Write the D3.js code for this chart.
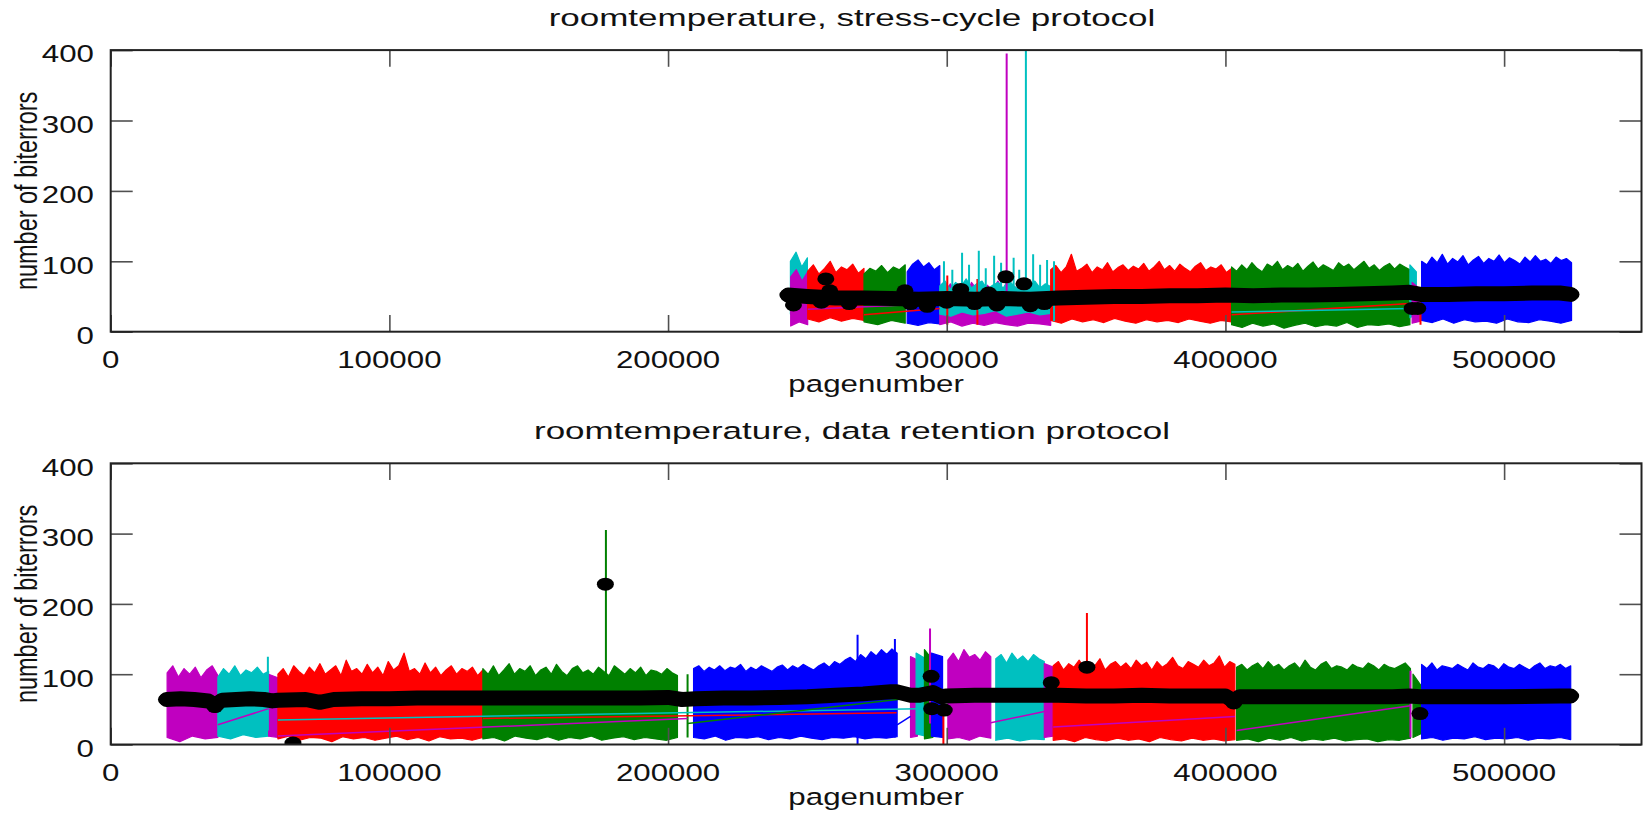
<!DOCTYPE html>
<meta charset="utf-8">
<style>
    body { margin: 0; background: #fff; }
    text { font-family: "Liberation Sans", Arial, sans-serif; fill: #111; }
    .tick line { stroke: #505050; stroke-width: 1.6px; }
    .domain { display: none; }
</style>
<title>roomtemperature biterrors</title>
<script src="https://d3js.org/d3.v7.min.js"></script>
<body>
<div id="chart"></div>
<script>
    // ---- data ----
    var xTicks = [0, 100000, 200000, 300000, 400000, 500000];
    var yTicks = [0, 100, 200, 300, 400];
    var titles = ["roomtemperature, stress-cycle protocol", "roomtemperature, data retention protocol"];
    var palette = {m: "#c000c0", c: "#00c0c0", r: "#ff0000", g: "#008000", b: "#0000ff"};

    // blocks: colour, first page, last page, upper envelope, lower envelope (evenly spaced along the block)
    var stressBlocks = [
        ["c", 243900, 250000, [100, 113, 92, 105], [25, 20, 28, 22]],
        ["m", 244000, 250100, [78, 88, 72, 85], [8, 14, 10]],
        ["r", 250100, 270300, [86, 95, 82, 90, 100, 84, 92, 88, 96, 83, 90], [18, 14, 20, 15, 19, 16]],
        ["g", 270300, 285100, [82, 90, 86, 94, 84, 92, 88, 95], [14, 10, 16, 12]],
        ["b", 285800, 297500, [85, 96, 102, 92, 98, 88, 94], [12, 9, 13, 11]],
        ["m", 297500, 337300, [62, 55, 68, 58, 64, 52, 70, 60, 56, 66, 58, 72, 60, 54, 65, 58, 62, 68, 56, 64, 60, 58], [10, 14, 8, 12, 9, 13, 10, 8, 12, 11, 9]],
        ["c", 297500, 337300, [65, 72, 60, 70, 64, 75, 62, 68, 72, 60, 66, 70, 62, 74, 65, 60, 70, 66, 72, 62, 68, 64], [25, 22, 28, 24, 26, 30, 22, 25, 28, 24, 26]],
        ["r", 337300, 402200, [88, 94, 84, 92, 110, 86, 90, 96, 84, 92, 88, 98, 85, 91, 95, 87, 93, 89, 97, 86, 92, 100, 88, 94, 86, 96, 90, 85, 93, 98, 87, 92, 89, 95, 84, 90], [16, 12, 18, 14, 17, 13, 19, 15, 12, 17, 14, 16, 13, 18, 15, 12, 16, 14]],
        ["g", 402200, 466200, [92, 86, 95, 88, 98, 90, 85, 96, 92, 100, 88, 94, 90, 97, 86, 93, 99, 89, 95, 91, 87, 98, 92, 96, 88, 94, 100, 90, 95, 87, 93, 97, 89, 96, 92, 88], [10, 6, 12, 8, 11, 5, 9, 12, 7, 10, 8, 13, 6, 10, 9, 11, 7, 10]],
        ["c", 466200, 468500, [95, 85], [20, 25]],
        ["m", 467000, 470000, [70, 60], [12, 15]],
        ["b", 470400, 524200, [100, 95, 106, 98, 110, 96, 104, 99, 108, 95, 102, 107, 97, 104, 100, 109, 98, 105, 101, 96, 106, 99, 108, 100, 103, 97, 106, 101, 104, 98], [16, 13, 18, 12, 17, 14, 15, 12, 18, 14, 13, 17, 15, 12, 16]]
    ];
    var retentionBlocks = [
        ["m", 20240, 38460, [102, 112, 96, 108, 100, 110, 95, 106, 112, 98], [10, 4, 12, 8, 10]],
        ["c", 38460, 56650, [96, 108, 100, 112, 98, 106, 102, 110, 100, 104], [12, 8, 14, 10, 12]],
        ["m", 56650, 60000, [100, 95], [12, 10]],
        ["r", 60000, 133550, [100, 108, 96, 112, 104, 98, 110, 102, 115, 100, 106, 112, 98, 120, 104, 108, 100, 114, 102, 110, 98, 118, 106, 112, 130, 104, 108, 100, 116, 102, 110, 98, 106, 112, 100, 108, 104, 110, 98, 106], [8, 12, 6, 10, 9, 4, 11, 8, 10, 6, 9, 12, 7, 10, 5, 11, 8, 9, 6, 10]],
        ["g", 133550, 203370, [108, 100, 112, 98, 106, 115, 100, 108, 104, 112, 98, 106, 110, 100, 114, 104, 98, 108, 112, 102, 106, 100, 110, 104, 98, 112, 106, 100, 108, 102, 110, 98, 106, 104, 100, 108, 102, 98], [8, 10, 5, 12, 9, 7, 11, 6, 10, 8, 12, 6, 9, 11, 7, 10, 8, 6, 10]],
        ["b", 209150, 282200, [108, 112, 104, 110, 106, 112, 105, 110, 108, 114, 104, 110, 106, 112, 108, 104, 110, 113, 106, 112, 108, 114, 110, 106, 112, 116, 110, 118, 114, 120, 124, 118, 128, 122, 132, 126, 135, 128, 136, 130], [10, 8, 12, 6, 10, 9, 11, 7, 10, 8, 12, 9, 7, 10, 9, 11, 8, 10, 9, 11]],
        ["m", 287000, 289500, [125, 120], [10, 12]],
        ["c", 289000, 292500, [130, 122], [15, 12]],
        ["g", 292000, 295000, [135, 120], [8, 10]],
        ["b", 294500, 298500, [130, 125], [12, 10]],
        ["m", 300400, 315800, [120, 130, 118, 135, 124, 128, 120, 132, 125], [8, 10, 6, 12, 9]],
        ["c", 317600, 335000, [122, 128, 116, 130, 120, 126, 118, 128, 122, 118], [6, 9, 5, 8, 7]],
        ["m", 335000, 338200, [115, 110], [10, 12]],
        ["r", 338200, 403400, [112, 118, 106, 115, 110, 120, 108, 116, 112, 122, 106, 114, 118, 110, 116, 108, 120, 112, 117, 106, 118, 110, 115, 124, 112, 108, 118, 114, 110, 120, 112, 116, 126, 110, 118, 114], [6, 8, 4, 10, 7, 5, 9, 6, 8, 4, 10, 7, 5, 9, 6, 8, 5, 7]],
        ["g", 404000, 466400, [110, 114, 106, 112, 116, 108, 118, 110, 114, 106, 112, 116, 108, 120, 110, 106, 114, 118, 108, 112, 110, 106, 114, 110, 108, 116, 112, 106, 114, 110, 108, 112, 116, 108], [6, 8, 4, 9, 6, 10, 5, 8, 6, 9, 5, 7, 8, 4, 7, 6, 9]],
        ["g", 467300, 470000, [100, 85], [10, 15]],
        ["b", 470400, 523900, [114, 108, 116, 106, 112, 110, 108, 114, 110, 106, 116, 110, 108, 114, 112, 106, 115, 110, 108, 114, 110, 106, 112, 116, 108, 112, 110, 114, 108, 112], [8, 10, 6, 9, 8, 11, 7, 9, 8, 10, 6, 9, 8, 10, 7]]
    ];

    // single tall spikes: colour, page, low, high
    var stressSpikes = [["m", 321500, 40, 395], ["c", 328400, 40, 410], ["r", 300200, 10, 80], ["r", 311000, 10, 75],
        ["c", 299000, 30, 100], ["c", 302000, 30, 88], ["c", 305500, 30, 112], ["c", 308000, 30, 95], ["c", 311500, 30, 115],
        ["c", 314000, 30, 90], ["c", 317000, 30, 108], ["c", 319500, 30, 98], ["c", 324000, 30, 105], ["c", 326000, 30, 88],
        ["c", 331000, 30, 110], ["c", 333500, 30, 95], ["c", 336000, 30, 102], ["c", 338500, 15, 100], ["r", 470000, 10, 40]];
    var retentionSpikes = [["c", 56400, 20, 125], ["g", 177700, 60, 305], ["g", 207000, 10, 100], ["b", 268000, 0, 156],
        ["b", 281400, 10, 150], ["m", 294000, 30, 165], ["r", 298800, 0, 75], ["r", 350300, 60, 187], ["m", 466400, 10, 105]];

    // thin connecting lines: colour, page1, value1, page2, value2
    var stressLinks = [["m", 250100, 32, 297500, 40], ["r", 270300, 24, 297500, 33], ["r", 402200, 24, 466200, 40], ["c", 402200, 28, 466200, 33]];
    var retentionLinks = [["m", 38460, 28, 56650, 51], ["m", 60000, 12, 207000, 37], ["c", 60000, 35, 290000, 51], ["r", 133550, 37, 282000, 45],
        ["g", 207000, 30, 287000, 66], ["b", 282200, 28, 287000, 40], ["m", 315800, 31, 335000, 47], ["m", 338200, 25, 403400, 40], ["m", 404000, 20, 466400, 55]];

    // black mean points
    var stressMeans = [[243000, 52], [250000, 50], [260000, 48], [270000, 48], [280000, 47], [290000, 46], [300000, 47], [310000, 46], [320000, 47], [330000, 46], [340000, 48], [350000, 49], [360000, 50], [370000, 50], [380000, 51], [390000, 51], [400000, 52], [410000, 51], [420000, 52], [430000, 52], [440000, 53], [450000, 54], [460000, 55], [466000, 56], [470000, 53], [480000, 53], [490000, 54], [500000, 54], [510000, 55], [520000, 55], [524000, 53]];
    var stressScatter = [[245000, 38], [255000, 42], [265000, 40], [287000, 40], [293000, 36], [300000, 42], [310000, 40], [318000, 38], [330000, 37], [335000, 40], [467000, 33], [469000, 33], [258000, 58], [285000, 58], [305000, 60], [315000, 55], [256600, 75], [321200, 78], [327700, 68]];
    var retentionMeans = [[20000, 64], [25000, 65], [30000, 64], [35000, 62], [37500, 56], [40000, 63], [45000, 64], [50000, 65], [55000, 64], [58000, 62], [60000, 63], [70000, 64], [75000, 60], [80000, 64], [90000, 65], [100000, 65], [110000, 66], [120000, 66], [130000, 66], [140000, 66], [150000, 66], [160000, 66], [170000, 66], [180000, 66], [190000, 66], [200000, 67], [205000, 64], [210000, 65], [220000, 66], [230000, 66], [240000, 67], [250000, 68], [260000, 70], [270000, 72], [280000, 75], [282000, 75], [287000, 70], [290000, 70], [295000, 74], [298000, 68], [300000, 69], [310000, 70], [320000, 70], [330000, 70], [340000, 70], [350000, 69], [360000, 69], [370000, 70], [380000, 69], [390000, 69], [400000, 69], [403000, 62], [405000, 68], [420000, 68], [440000, 68], [460000, 68], [466000, 69], [470000, 68], [480000, 68], [500000, 68], [520000, 69], [523900, 69]];
    var retentionScatter = [[65400, 2], [177500, 228], [294400, 97], [294600, 51], [299100, 49], [337500, 88], [350300, 110], [403000, 59], [469800, 44], [37400, 54]];

    // ---- drawing ----
    var sx = 1.33;      // the picture is stretched sideways
    var sxTitle = 1.49;
    var width = 1643, height = 815;
    var svg = d3.select("#chart").append("svg").attr("width", width).attr("height", height);

    var x = d3.scaleLinear().domain([0, 549300]).range([110.7, 1641.5]);

    var panels = [
        {title: titles[0], top: 50.1, bottom: 331.7, blocks: stressBlocks, spikes: stressSpikes, links: stressLinks, means: stressMeans, scatter: stressScatter},
        {title: titles[1], top: 463.3, bottom: 744.5, blocks: retentionBlocks, spikes: retentionSpikes, links: retentionLinks, means: retentionMeans, scatter: retentionScatter}
    ];

    function stretchedText(g, px, py, str, anchor, rot, s) {
        return g.append("text")
            .attr("transform", "translate(" + px + "," + py + ") scale(" + (s || sx) + ",1)" + (rot ? " rotate(" + rot + ")" : ""))
            .attr("text-anchor", anchor)
            .style("font-size", "23.5px")
            .text(str);
    }

    panels.forEach(function(p) {
        var y = d3.scaleLinear().domain([0, 400]).range([p.bottom, p.top]);
        var g = svg.append("g");
        var clipId = "clip" + Math.round(p.top);
        svg.append("clipPath").attr("id", clipId).append("rect")
            .attr("x", x.range()[0]).attr("y", p.top).attr("width", x.range()[1] - x.range()[0]).attr("height", p.bottom - p.top);
        var plot = g.append("g").attr("clip-path", "url(#" + clipId + ")");

        var line = d3.line().x(function(d) { return x(d[0]); }).y(function(d) { return y(d[1]); });

        // noisy blocks as filled envelopes
        p.blocks.forEach(function(b) {
            var hi = b[3].map(function(v, i) { return [b[1] + (b[2] - b[1]) * i / (b[3].length - 1), v]; });
            var lo = b[4].map(function(v, i) { return [b[1] + (b[2] - b[1]) * i / (b[4].length - 1), v]; });
            plot.append("path")
                .attr("d", line(hi.concat(lo.reverse())) + "Z")
                .attr("fill", palette[b[0]])
                .attr("stroke", palette[b[0]])
                .attr("stroke-width", 1.2)
                .attr("stroke-linejoin", "round");
        });

        plot.selectAll(".spike").data(p.spikes).enter().append("line")
            .attr("x1", function(d) { return x(d[1]); }).attr("x2", function(d) { return x(d[1]); })
            .attr("y1", function(d) { return y(d[2]); }).attr("y2", function(d) { return y(d[3]); })
            .attr("stroke", function(d) { return palette[d[0]]; })
            .attr("stroke-width", 2);

        plot.selectAll(".link").data(p.links).enter().append("line")
            .attr("x1", function(d) { return x(d[1]); }).attr("y1", function(d) { return y(d[2]); })
            .attr("x2", function(d) { return x(d[3]); }).attr("y2", function(d) { return y(d[4]); })
            .attr("stroke", function(d) { return palette[d[0]]; })
            .attr("stroke-width", 1.5);

        // black means: a thick run of overlapping dots
        plot.append("path")
            .attr("d", line(p.means))
            .attr("fill", "none")
            .attr("stroke", "#000")
            .attr("stroke-width", 15)
            .attr("stroke-linecap", "round")
            .attr("stroke-linejoin", "round");
        plot.selectAll(".dot").data(p.means.concat(p.scatter)).enter().append("ellipse")
            .attr("cx", function(d) { return x(d[0]); })
            .attr("cy", function(d) { return y(d[1]); })
            .attr("rx", 8.5).attr("ry", 6.5)
            .attr("fill", "#000");

        // ticks, mirrored on all four sides
        g.append("g").attr("transform", "translate(0," + p.bottom + ")")
            .call(d3.axisBottom(x).tickValues(xTicks).tickSize(-16.7).tickFormat(""));
        g.append("g").attr("transform", "translate(0," + p.top + ")")
            .call(d3.axisTop(x).tickValues(xTicks).tickSize(-16.7).tickFormat(""));
        g.append("g").attr("transform", "translate(" + x.range()[0] + ",0)")
            .call(d3.axisLeft(y).tickValues(yTicks).tickSize(-22).tickFormat(""));
        g.append("g").attr("transform", "translate(" + x.range()[1] + ",0)")
            .call(d3.axisRight(y).tickValues(yTicks).tickSize(-22).tickFormat(""));

        g.append("rect")
            .attr("x", x.range()[0]).attr("y", p.top)
            .attr("width", x.range()[1] - x.range()[0]).attr("height", p.bottom - p.top)
            .attr("fill", "none").attr("stroke", "#222").attr("stroke-width", 2);

        xTicks.forEach(function(t) { stretchedText(g, x(t), p.bottom + 36.6, String(t), "middle"); });
        yTicks.forEach(function(t) { stretchedText(g, 94, y(t) + 12.3, String(t), "end"); });

        stretchedText(g, (x.range()[0] + x.range()[1]) / 2, p.bottom + 60, "pagenumber", "middle");
        stretchedText(g, 37, (p.top + p.bottom) / 2, "number of biterrors", "middle", -90);
        stretchedText(g, 852, p.top - 24, p.title, "middle", 0, sxTitle);
    });
</script>
</body>
